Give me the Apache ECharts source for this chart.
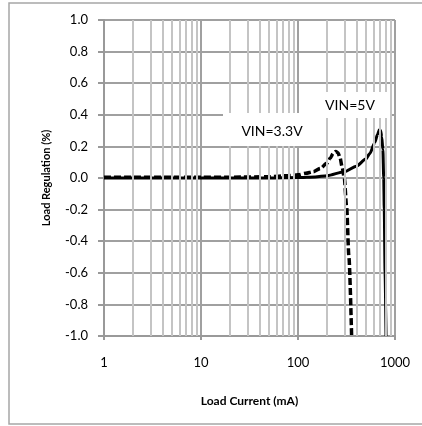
<!DOCTYPE html>
<html>
<head>
<meta charset="utf-8">
<script src="https://cdn.jsdelivr.net/npm/echarts@6/dist/echarts.min.js"></script>
<style>html,body{margin:0;padding:0;background:#fff;}#c{width:422px;height:426px;}</style>
</head>
<body>
<div id="c"></div>
<script>
// Data
var current5V = [1, 2, 5, 10, 20, 50, 100, 150, 200, 300, 400, 500, 550, 620, 660, 690, 710, 730, 750, 765, 775, 790, 808];
var reg5V     = [0, 0, 0, 0, 0, 0, 0.003, 0.007, 0.015, 0.04, 0.075, 0.12, 0.155, 0.225, 0.275, 0.305, 0.3, 0.26, 0.18, 0.0, -0.2, -0.6, -1.0];
var current33V = [1, 2, 5, 10, 20, 50, 80, 100, 120, 144, 170, 198, 215, 230, 245, 258, 271, 285, 300, 317, 335, 357];
var reg33V     = [0.005, 0.005, 0.005, 0.005, 0.005, 0.008, 0.015, 0.02, 0.03, 0.04, 0.06, 0.093, 0.125, 0.155, 0.168, 0.16, 0.13, 0.07, 0.0, -0.18, -0.5, -1.0];
var minorX = [2,3,4,5,6,7,8,9,20,30,40,50,60,70,80,90,200,300,400,500,600,700,800,900];
var majorX = [1, 10, 100, 1000];
var yTicks = [-1.0, -0.8, -0.6, -0.4, -0.2, 0.0, 0.2, 0.4, 0.6, 0.8, 1.0];
var labels = ['VIN=5V', 'VIN=3.3V'];
var xTitle = 'Load Current (mA)';
var yTitle = 'Load Regulation (%)';

function pairs(xs, ys) { return xs.map(function (x, i) { return [x, ys[i]]; }); }

var FONT = 'Lato';
var chart = echarts.init(document.getElementById('c'), null, {renderer: 'canvas'});

var minorLines = minorX.map(function (x) { return {xAxis: x}; });

chart.setOption({
  backgroundColor: '#fff',
  animation: false,
  grid: {left: 104, right: 27, top: 20, bottom: 90},
  graphic: [
    {type: 'rect', shape: {x: 9, y: 3, width: 430, height: 421}, style: {fill: 'none', stroke: '#a6a6a6', lineWidth: 1.5}, z: 0, silent: true},
    {type: 'rect', shape: {x: 318, y: 92, width: 72, height: 26}, style: {fill: '#fff'}, z: 50, silent: true},
    {type: 'text', x: 350, y: 105, style: {text: labels[0], font: '14px ' + FONT, fill: '#000', align: 'center', verticalAlign: 'middle'}, z: 51, silent: true},
    {type: 'rect', shape: {x: 223, y: 113, width: 102, height: 33}, style: {fill: '#fff'}, z: 50, silent: true},
    {type: 'text', x: 272, y: 131, style: {text: labels[1], font: '14px ' + FONT, fill: '#000', align: 'center', verticalAlign: 'middle'}, z: 51, silent: true}
  ],
  xAxis: {
    type: 'log', logBase: 10, min: 1, max: 1000,
    name: xTitle, nameLocation: 'middle', nameGap: 59,
    nameTextStyle: {fontFamily: FONT, fontSize: 12, fontWeight: 'bold', color: '#000'},
    axisLine: {onZero: false, lineStyle: {color: '#999', width: 2}},
    axisTick: {show: true, length: 4, lineStyle: {color: '#999', width: 2}},
    axisLabel: {fontFamily: FONT, fontSize: 13, color: '#000', margin: 20, formatter: function (v) { return String(Math.round(v)); }},
    splitLine: {show: true, lineStyle: {color: '#a0a0a0', width: 2}}
  },
  yAxis: {
    type: 'value', min: -1, max: 1, interval: 0.2,
    name: yTitle, nameLocation: 'middle', nameGap: 52, nameRotate: 90,
    nameTextStyle: {fontFamily: FONT, fontSize: 11, fontWeight: 'bold', color: '#000'},
    axisLine: {show: true, lineStyle: {color: '#999', width: 2}},
    axisTick: {show: true, length: 6, lineStyle: {color: '#999', width: 2}},
    axisLabel: {fontFamily: FONT, fontSize: 13, color: '#000', margin: 16, formatter: function (v) { return v.toFixed(1); }},
    splitLine: {show: true, lineStyle: {color: '#a0a0a0', width: 2}}
  },
  series: [
    {
      type: 'line', data: [], z: 1, silent: true,
      markLine: {
        silent: true, symbol: 'none', animation: false, label: {show: false},
        lineStyle: {color: '#c4c4c4', width: 2, type: 'solid'},
        data: minorLines
      }
    },
    {
      name: labels[0], type: 'line', data: pairs(current5V, reg5V), smooth: 0.25, smoothMonotone: 'x',
      showSymbol: false, z: 3, lineStyle: {color: '#000', width: 3, type: 'solid'}
    },
    {
      name: labels[1], type: 'line', data: pairs(current33V, reg33V), smooth: 0.25, smoothMonotone: 'x',
      showSymbol: false, z: 3, lineStyle: {color: '#000', width: 3.5, type: [7, 3]}
    }
  ]
});
</script>
</body>
</html>
